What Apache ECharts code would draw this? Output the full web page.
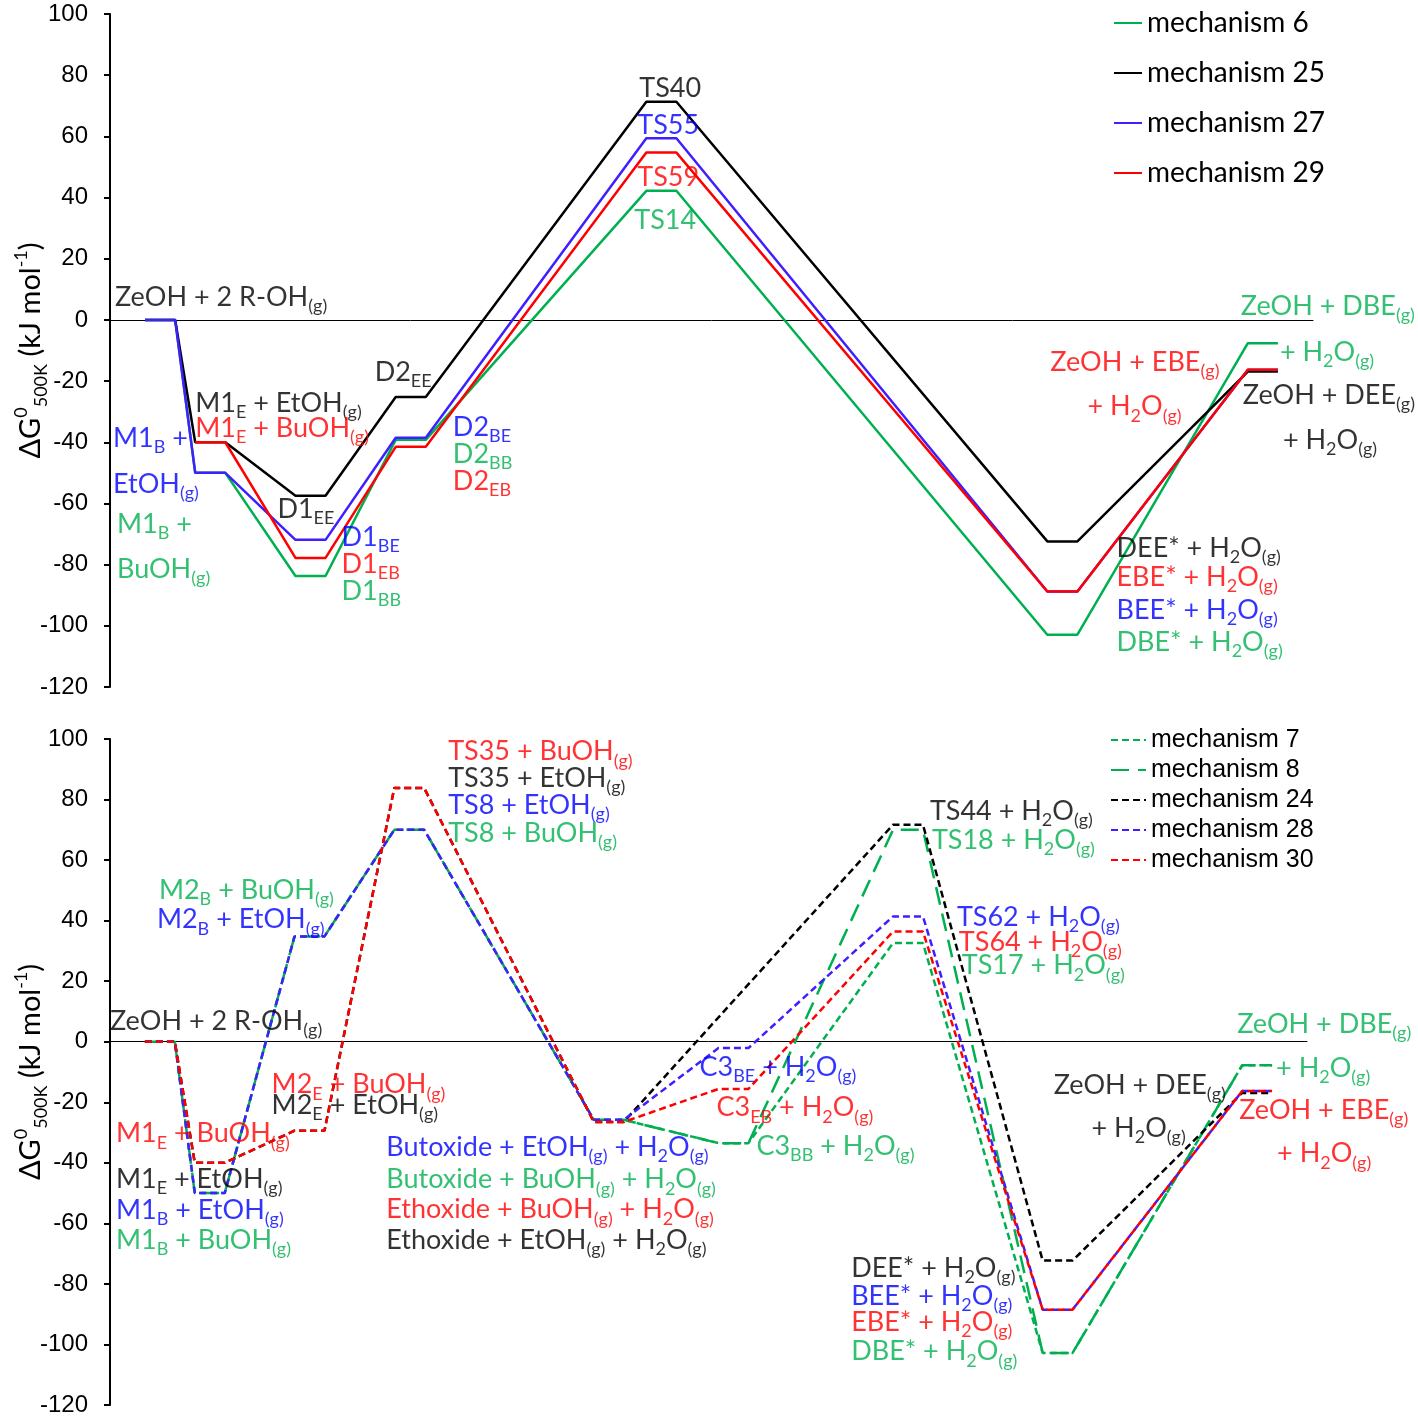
<!DOCTYPE html>
<html><head><meta charset="utf-8">
<script src="https://cdn.jsdelivr.net/npm/echarts@6/dist/echarts.min.js"></script>
<style>html,body{margin:0;padding:0;background:#fff}#c{width:1418px;height:1418px}</style>
</head><body><div id="c"></div>
<script>
// ---------------- DATA ----------------
// Top panel: reaction-coordinate position of each level and free energies (kJ/mol)
const topLevelX = [0.5, 1, 2, 3, 5.5, 9.5, 11.5];
const mech6  = [0, -50, -83.7, -39.2, 42.2, -102.9, -7.6];
const mech25 = [0, -40, -57.5, -25.2, 71.3, -72.4, -16.9];
const mech27 = [0, -50, -71.9, -38.5, 59.4, -88.8, -16.3];
const mech29 = [null, -40, -77.8, -41.5, 54.7, -88.8, -16.3];

// Bottom panel
const botLevelX = [0.5, 1, 2, 3, 5, 6.25, 8, 9.5, 11.5];
const mech7  = [0, -50, 34.8, 70, -25.8, -33.5, 32.6, -102.8, -7.8];
const mech8  = [0, -50, 34.8, 70, -25.8, -33.5, 70.0, -102.8, -7.8];
const mech24 = [0, -40, -29.4, 83.8, -26.5, null, 71.7, -72.3, -16.9];
const mech28 = [0, -50, 34.8, 70, -25.8, -2.1, 41.4, -88.5, -16.3];
const mech30 = [0, -40, -29.4, 83.8, -26.5, -15.6, 36.4, -88.5, -16.3];

const yTicks = [-120, -100, -80, -60, -40, -20, 0, 20, 40, 60, 80, 100];

// Annotations: [text, x, y, colour]
const topNotes = [
  ['ZeOH + 2 R-OH{s|(g)}', 0.05, 7.5, 'k'],
  ['M1{s|E} + EtOH{s|(g)}', 0.85, -27.1, 'k'],
  ['M1{s|E} + BuOH{s|(g)}', 0.85, -35.3, 'r'],
  ['M1{s|B} +', 0.03, -38.6, 'b'],
  ['EtOH{s|(g)}', 0.03, -53.6, 'b'],
  ['M1{s|B} +', 0.07, -66.7, 'g'],
  ['BuOH{s|(g)}', 0.07, -81.4, 'g'],
  ['D1{s|EE}', 1.67, -61.8, 'k'],
  ['D1{s|BE}', 2.31, -70.9, 'b'],
  ['D1{s|EB}', 2.31, -79.8, 'r'],
  ['D1{s|BB}', 2.31, -88.6, 'g'],
  ['D2{s|EE}', 2.64, -17.0, 'k'],
  ['D2{s|BE}', 3.42, -35.0, 'b'],
  ['D2{s|BB}', 3.42, -43.8, 'g'],
  ['D2{s|EB}', 3.42, -52.6, 'r'],
  ['TS40', 5.28, 75.8, 'k'],
  ['TS55', 5.26, 63.7, 'b'],
  ['TS59', 5.26, 46.7, 'r'],
  ['TS14', 5.23, 32.4, 'g'],
  ['ZeOH + DBE{s|(g)}', 11.28, 4.6, 'g'],
  ['+ H{s|2}O{s|(g)}', 11.67, -10.5, 'g'],
  ['ZeOH + EBE{s|(g)}', 9.38, -13.7, 'r'],
  ['+ H{s|2}O{s|(g)}', 9.75, -28.4, 'r'],
  ['ZeOH + DEE{s|(g)}', 11.30, -24.5, 'k'],
  ['+ H{s|2}O{s|(g)}', 11.70, -39.2, 'k'],
  ['DEE* + H{s|2}O{s|(g)}', 10.04, -74.5, 'k'],
  ['EBE* + H{s|2}O{s|(g)}', 10.04, -84.0, 'r'],
  ['BEE* + H{s|2}O{s|(g)}', 10.04, -94.8, 'b'],
  ['DBE* + H{s|2}O{s|(g)}', 10.04, -105.3, 'g']
];
const botNotes = [
  ['ZeOH + 2 R-OH{s|(g)}', 0.0, 6.9, 'k'],
  ['M2{s|B} + BuOH{s|(g)}', 0.49, 49.9, 'g'],
  ['M2{s|B} + EtOH{s|(g)}', 0.47, 40.3, 'b'],
  ['M2{s|E} + BuOH{s|(g)}', 1.62, -14.2, 'r'],
  ['M2{s|E} + EtOH{s|(g)}', 1.62, -21.1, 'k'],
  ['M1{s|E} + BuOH{s|(g)}', 0.06, -30.4, 'r'],
  ['M1{s|E} + EtOH{s|(g)}', 0.06, -45.3, 'k'],
  ['M1{s|B} + EtOH{s|(g)}', 0.06, -55.8, 'b'],
  ['M1{s|B} + BuOH{s|(g)}', 0.06, -65.7, 'g'],
  ['Butoxide + EtOH{s|(g)} + H{s|2}O{s|(g)}', 2.77, -35.0, 'b'],
  ['Butoxide + BuOH{s|(g)} + H{s|2}O{s|(g)}', 2.77, -45.6, 'g'],
  ['Ethoxide + BuOH{s|(g)} + H{s|2}O{s|(g)}', 2.77, -55.5, 'r'],
  ['Ethoxide + EtOH{s|(g)} + H{s|2}O{s|(g)}', 2.77, -65.7, 'k'],
  ['TS35 + BuOH{s|(g)}', 3.39, 95.8, 'r'],
  ['TS35 + EtOH{s|(g)}', 3.39, 86.9, 'k'],
  ['TS8 + EtOH{s|(g)}', 3.39, 78.0, 'b'],
  ['TS8 + BuOH{s|(g)}', 3.39, 69.0, 'g'],
  ['C3{s|BE} + H{s|2}O{s|(g)}', 5.91, -8.3, 'b'],
  ['C3{s|EB} + H{s|2}O{s|(g)}', 6.08, -21.8, 'r'],
  ['C3{s|BB} + H{s|2}O{s|(g)}', 6.48, -34.4, 'g'],
  ['TS44 + H{s|2}O{s|(g)}', 8.22, 76.0, 'k'],
  ['TS18 + H{s|2}O{s|(g)}', 8.24, 66.7, 'g'],
  ['TS62 + H{s|2}O{s|(g)}', 8.49, 41.0, 'b'],
  ['TS64 + H{s|2}O{s|(g)}', 8.51, 33.0, 'r'],
  ['TS17 + H{s|2}O{s|(g)}', 8.54, 25.1, 'g'],
  ['ZeOH + DBE{s|(g)}', 11.30, 5.9, 'g'],
  ['+ H{s|2}O{s|(g)}', 11.69, -8.9, 'g'],
  ['ZeOH + DEE{s|(g)}', 9.46, -14.5, 'k'],
  ['+ H{s|2}O{s|(g)}', 9.84, -28.7, 'k'],
  ['ZeOH + EBE{s|(g)}', 11.32, -22.5, 'r'],
  ['+ H{s|2}O{s|(g)}', 11.70, -37.0, 'r'],
  ['DEE* + H{s|2}O{s|(g)}', 7.43, -74.7, 'k'],
  ['BEE* + H{s|2}O{s|(g)}', 7.43, -84.2, 'b'],
  ['EBE* + H{s|2}O{s|(g)}', 7.43, -92.8, 'r'],
  ['DBE* + H{s|2}O{s|(g)}', 7.43, -102.4, 'g']
];

// ---------------- STYLE / BUILD ----------------
const HALF = 0.15;
const FONT = 'Lato';
const TXT = {k:'#000000', b:'#0000FF', r:'#FF0000', g:'#00B050'};
const LC = {green:'#00B050', black:'#000000', blue:'#3F1FFF', red:'#FF0000'};
const SHORT = [7, 4], LONG = [18, 9];

function steps(xs, ys) {
  const out = [];
  xs.forEach((x, i) => { if (ys[i] == null) return; out.push([x - HALF, ys[i]], [x + HALF, ys[i]]); });
  return out;
}
function lineSeries(name, xs, ys, color, gi, dash) {
  return {name, type:'line', xAxisIndex:gi, yAxisIndex:gi, data:steps(xs, ys),
    symbol:'none', showSymbol:false, silent:true,
    lineStyle:{color, width:2.5, type:dash || 'solid'}, itemStyle:{color}};
}
function subStyle(c) { return {fontFamily:FONT, fontSize:18, lineHeight:18, verticalAlign:'bottom', color:c}; }
function noteSeries(list, gi) {
  return {type:'scatter', xAxisIndex:gi, yAxisIndex:gi, symbolSize:0, silent:true, clip:false, z:10,
    data:list.map(a => ({value:[a[1], a[2]], label:{show:true, position:'right', distance:0,
      formatter:a[0], color:TXT[a[3]], fontFamily:FONT, fontSize:27, lineHeight:36,
      rich:{s:subStyle(TXT[a[3]])}}}))};
}
function yAxis(gi) {
  return {type:'value', gridIndex:gi, min:yTicks[0], max:yTicks[yTicks.length-1], interval:20,
    axisLine:{show:true, onZero:false, lineStyle:{color:'#000', width:2}},
    axisTick:{show:true, length:6, lineStyle:{color:'#000', width:2}},
    axisLabel:{fontFamily:'Liberation Sans', fontSize:24, color:'#000', margin:22},
    splitLine:{show:false},
    name:'ΔG{p|0}{q|500K} (kJ mol{p|-1})', nameLocation:'middle', nameGap:60, nameRotate:90,
    nameMoveOverlap:false,
    nameTextStyle:{fontFamily:FONT, fontSize:29, color:'#000', lineHeight:38,
      rich:{p:{fontFamily:FONT, fontSize:18, lineHeight:18, verticalAlign:'top', color:'#000'},
            q:{fontFamily:FONT, fontSize:18, lineHeight:18, verticalAlign:'bottom', color:'#000'}}}};
}
function xAxis(gi) {
  return {type:'value', gridIndex:gi, min:0, max:12,
    axisLine:{show:true, onZero:true, lineStyle:{color:'#000', width:1}},
    axisTick:{show:false}, axisLabel:{show:false}, splitLine:{show:false}};
}

const chart = echarts.init(document.getElementById('c'));
chart.setOption({
  animation:false,
  backgroundColor:'#fff',
  grid:[{left:110, top:14, width:1203, height:673, containLabel:false, outerBoundsMode:'none'},
        {left:110, top:739, width:1197, height:666, containLabel:false, outerBoundsMode:'none'}],
  xAxis:[xAxis(0), xAxis(1)],
  yAxis:[yAxis(0), yAxis(1)],
  legend:[
    {data:['mechanism 6','mechanism 25','mechanism 27','mechanism 29'], orient:'vertical',
     left:1113, top:8, padding:0, itemWidth:28, itemHeight:14, itemGap:20, selectedMode:false,
     itemStyle:{opacity:0},
     textStyle:{fontFamily:FONT, fontSize:28, lineHeight:30, color:'#000'}},
    {data:['mechanism 7','mechanism 8','mechanism 24','mechanism 28','mechanism 30'], orient:'vertical',
     left:1110, top:727, padding:0, itemWidth:35, itemHeight:14, itemGap:4, selectedMode:false,
     itemStyle:{opacity:0},
     textStyle:{fontFamily:'Liberation Sans', fontSize:25, lineHeight:26, color:'#000'}}
  ],
  series:[
    lineSeries('mechanism 6', topLevelX, mech6, LC.green, 0),
    lineSeries('mechanism 25', topLevelX, mech25, LC.black, 0),
    lineSeries('mechanism 27', topLevelX, mech27, LC.blue, 0),
    lineSeries('mechanism 29', topLevelX, mech29, LC.red, 0),
    lineSeries('mechanism 7', botLevelX, mech7, LC.green, 1, SHORT),
    lineSeries('mechanism 8', botLevelX, mech8, LC.green, 1, LONG),
    lineSeries('mechanism 24', botLevelX, mech24, LC.black, 1, SHORT),
    lineSeries('mechanism 28', botLevelX, mech28, LC.blue, 1, SHORT),
    lineSeries('mechanism 30', botLevelX, mech30, LC.red, 1, SHORT),
    noteSeries(topNotes, 0),
    noteSeries(botNotes, 1)
  ]
});
</script></body></html>
